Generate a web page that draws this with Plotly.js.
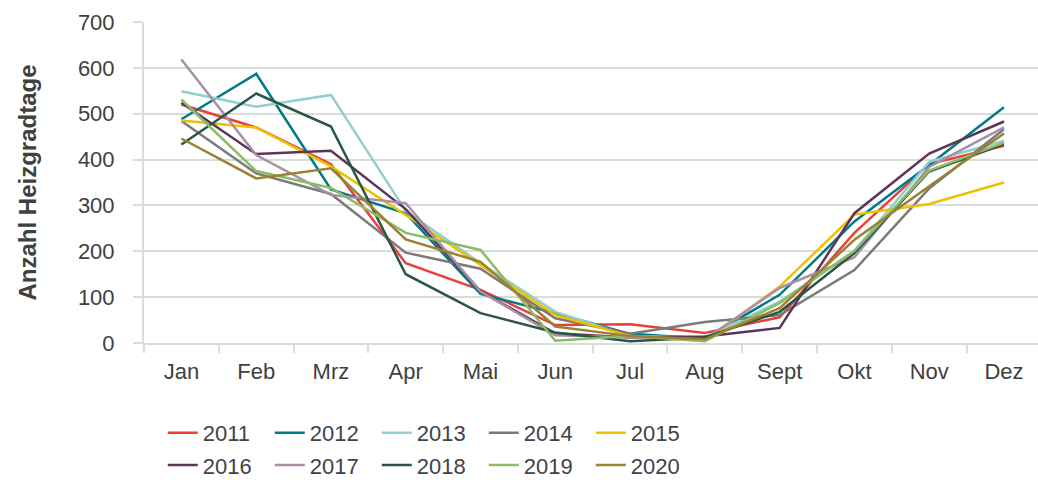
<!DOCTYPE html>
<html>
<head>
<meta charset="utf-8">
<script src="https://cdn.plot.ly/plotly-3.0.1.min.js"></script>
<style>html,body{margin:0;padding:0;background:#fff}#chart{width:1038px;height:480px}</style>
</head>
<body>
<div id="chart"></div>
<script>
const months = ["Jan","Feb","Mrz","Apr","Mai","Jun","Jul","Aug","Sept","Okt","Nov","Dez"];
const years = ["2011","2012","2013","2014","2015","2016","2017","2018","2019","2020"];
const yTicks = [0,100,200,300,400,500,600,700];

const v2011 = [520,470,390,174,116,39,41,22,56,240,390,430];
const v2012 = [488,587,335,283,107,65,20,10,105,265,388,514];
const v2013 = [549,515,541,288,174,68,15,12,90,201,395,441];
const v2014 = [484,370,325,197,162,54,20,46,61,159,337,466];
const v2015 = [485,470,385,279,170,61,15,5,123,280,303,350];
const v2016 = [524,412,419,292,113,21,12,14,33,283,413,483];
const v2017 = [618,410,323,305,112,17,12,8,120,187,384,470];
const v2018 = [433,544,472,150,65,23,4,12,68,196,374,434];
const v2019 = [531,375,338,240,203,5,15,4,87,201,376,437];
const v2020 = [446,359,381,226,177,36,15,8,76,225,342,457];

const series = [v2011,v2012,v2013,v2014,v2015,v2016,v2017,v2018,v2019,v2020];
const colors = ["#E8413A","#007B85","#8FD0D1","#7A7A7A","#EDC000","#5E3457","#A98FA6","#2B5646","#8DBB67","#9A8232"];

const traces = series.map((vals, i) => ({
  type: "scatter",
  mode: "lines",
  name: years[i],
  x: months,
  y: vals,
  line: {color: colors[i], width: 2.5},
  legend: i < 5 ? "legend" : "legend2"
}));

const gridCol = "#D7DED7";
const legendCommon = {
  orientation: "h",
  xanchor: "left",
  yanchor: "middle",
  yref: "container",
  font: {family: "Liberation Sans, Arial, sans-serif", size: 22, color: "#3F4347"},
  entrywidth: 62,
  entrywidthmode: "pixels",
  itemwidth: 30,
  tracegroupgap: 0,
  bgcolor: "rgba(0,0,0,0)"
};

const layout = {
  width: 1038,
  height: 480,
  margin: {l: 144, r: 0, t: 22, b: 137, autoexpand: false},
  paper_bgcolor: "#ffffff",
  plot_bgcolor: "#ffffff",
  showlegend: true,
  font: {family: "Liberation Sans, Arial, sans-serif", color: "#404040"},
  xaxis: {
    type: "category",
    range: [-0.5, 11.455],
    showgrid: false,
    showline: true,
    linecolor: gridCol,
    linewidth: 2,
    ticks: "outside",
    tickson: "boundaries",
    ticklen: 8,
    tickwidth: 2,
    tickcolor: gridCol,
    ticklabelstandoff: 8,
    tickfont: {size: 22, color: "#404040"},
    zeroline: false,
    automargin: false
  },
  yaxis: {
    range: [0, 700],
    tickvals: yTicks,
    ticktext: yTicks.map(String),
    showgrid: true,
    gridcolor: gridCol,
    gridwidth: 2,
    showline: true,
    linecolor: gridCol,
    linewidth: 2,
    ticks: "outside",
    ticklen: 9,
    tickwidth: 2,
    tickcolor: gridCol,
    ticklabelstandoff: 14,
    tickfont: {size: 22, color: "#404040"},
    zeroline: false,
    automargin: false,
    title: {text: "Anzahl Heizgradtage", font: {size: 24, color: "#404040", family: "Liberation Sans, Arial, sans-serif", weight: "bold"}, standoff: 34}
  },
  legend: Object.assign({}, legendCommon, {x: 0.021, y: 0.098}),
  legend2: Object.assign({}, legendCommon, {x: 0.021, y: 0.031})
};

Plotly.newPlot("chart", traces, layout, {displayModeBar: false, staticPlot: true});
</script>
</body>
</html>
